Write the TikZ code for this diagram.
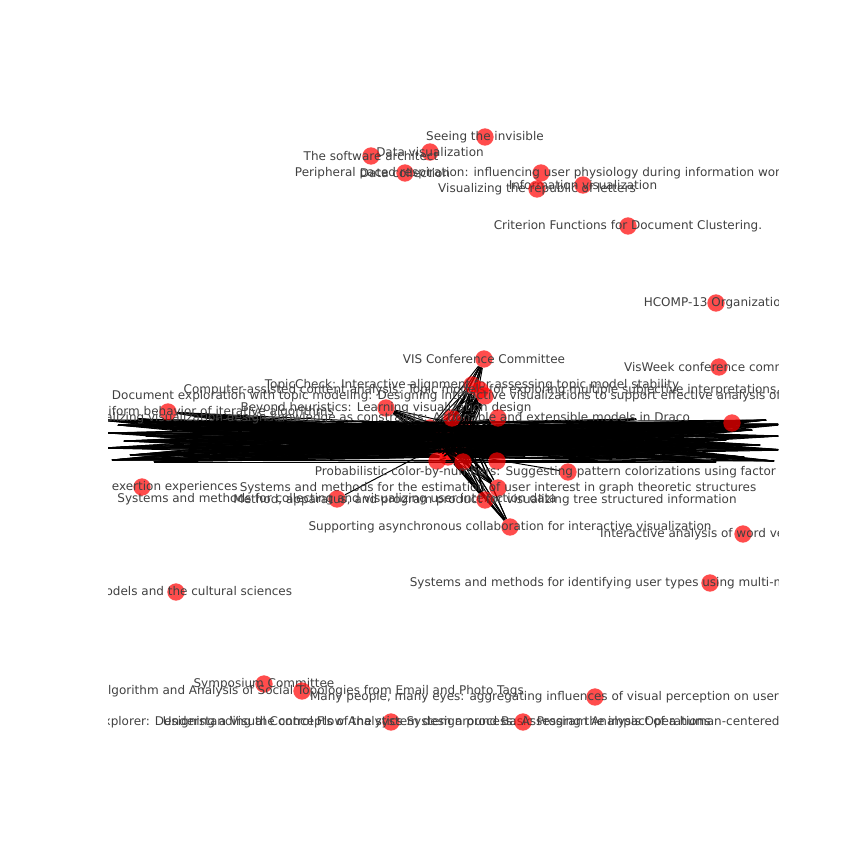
\documentclass[tikz,border=0pt]{standalone}
\usepackage{fontspec}
\setmainfont{DejaVu Sans}
\usetikzlibrary{positioning}
\pgfdeclarelayer{bandlayer}
\pgfdeclarelayer{edgelayer}
\pgfsetlayers{bandlayer,edgelayer,main}
\definecolor{nodered}{RGB}{255,0,0}
\definecolor{lblgray}{RGB}{64,64,64}

\begin{document}
\begin{tikzpicture}[x=0.025cm,y=-0.025cm,
  vtx/.style={circle,draw=none,fill=nodered,fill opacity=0.7,minimum size=4.33mm,inner sep=0pt},
  lbl/.style={font=\fontsize{8.54}{10}\selectfont,text=lblgray,fill opacity=1,text opacity=1,inner sep=0pt},
  every label/.style={lbl},
  link/.style={draw=black,line width=0.7pt}]
\useasboundingbox (0,0) rectangle (864,864);
\clip (108,104) rectangle (778,769);
% --- the hairball: hubs under the edges, far ends of the band as coordinates ---
\begin{pgfonlayer}{bandlayer}
\foreach \x/\y [count=\i] in {430/428,445/432,455/438,440/445,460/446,450/452,470/436,435/438,465/426,448/457}
  \node[vtx] (h\i) at (\x,\y) {};
\end{pgfonlayer}
\foreach \x/\y [count=\i] in {100/420,104/448,108/433,112/460,118/425,124/441,130/455,138/419,146/436,154/462,162/428,170/447,180/421,190/458,200/437,212/451,224/423,238/460,252/432,268/448}
  \coordinate (l\i) at (\x,\y);
\foreach \x/\y [count=\i] in {790/424,786/450,780/436,774/461,766/420,760/445,752/430,744/457,736/427,726/440,716/462,706/422,696/449,684/433,672/458,660/425,648/444,636/419,624/454,612/436}
  \coordinate (r\i) at (\x,\y);
\foreach \x/\y [count=\i] in {300/441,330/459,360/421,392/451,525/456,548/427,582/446,612/459}
  \coordinate (m\i) at (\x,\y);
% --- papers in and around the band ---
\foreach \x/\y [count=\i] in {437/461,463/462,497/461,452/418}
  \node[vtx] (c\i) at (\x,\y) {};
\node[vtx] (rightn) at (732,423) {};
\node[vtx,label={center:VIS Conference Committee}] (vis) at (484,359) {};
\node[vtx,label={center:TopicCheck: Interactive alignment for assessing topic model stability}] (topic) at (472,385) {};
\node[vtx,label={center:Computer-assisted content analysis: Topic models for exploring multiple subjective interpretations}] (compu) at (480,390) {};
\node[vtx,label={center:Document exploration with topic modeling: Designing interactive visualizations to support effective analysis of text corpora}] (docexp) at (485,396) {};
\node[vtx,label={center:Beyond heuristics: Learning visualization design}] (beyond) at (386,408) {};
\node[vtx] (uniform) at (168,412) {};
\node[lbl,anchor=west] (uniformlbl) at ([xshift=-1.875cm]uniform.center) {uniform behavior of iterative algorithms};
\node[vtx] (draco) at (498,418) {};
\node[lbl,anchor=east] (dracolbl) at ([xshift=4.8cm]draco.center) {Formalizing visualization design knowledge as constraints: Actionable and extensible models in Draco};
\node[vtx,label={center:Probabilistic color-by-numbers: Suggesting pattern colorizations using factor graphs}] (prob) at (568,472) {};
\node[vtx,label={center:Systems and methods for the estimation of user interest in graph theoretic structures}] (est) at (498,488) {};
\node[vtx,label={center:Systems and methods for collecting and visualizing user interaction data}] (sysm) at (337,499) {};
\node[vtx,label={center:Method, apparatus, and program product for visualizing tree structured information}] (meth) at (485,500) {};
\node[vtx,label={center:Supporting asynchronous collaboration for interactive visualization}] (supp) at (510,527) {};
% --- edges ---
\begin{pgfonlayer}{edgelayer}
\begin{scope}
\clip (108,104) rectangle (778,769);
\foreach \j in {1,...,10} {
  \foreach \i in {1,...,20} {
    \draw[link] (h\j) -- (l\i);
    \draw[link] (h\j) -- (r\i);
  }
  \foreach \i in {1,...,8} \draw[link] (h\j) -- (m\i);
  \foreach \t in {c1,c2,c3,c4,rightn,vis,topic,compu,docexp,beyond,uniform,draco,est,meth,supp}
    \draw[link] (h\j) -- (\t);
}
\foreach \i [evaluate=\i as \k using {int(21-\i)}, evaluate=\i as \n using {int(mod(\i+6,20)+1)}] in {1,...,20} {
  \draw[link] (l\i) -- (r\i);
  \draw[link] (l\i) -- (r\k);
  \draw[link] (l\i) -- (r\n);
}
\draw[link] (sysm) -- (h4);
\draw[link] (prob) -- (h6);
\end{scope}
\end{pgfonlayer}
% --- loose nodes ---
\node[vtx,label={center:Seeing the invisible}] (seeing) at (485,137) {};
\node[vtx,label={center:Data visualization}] (dataviz) at (430,152) {};
\node[vtx,label={center:The software architect}] (softarch) at (371,156) {};
\node[vtx,label={center:Data collection}] (datacoll) at (405,173) {};
\node[vtx,label={center:Peripheral paced respiration: influencing user physiology during information work}] (periph) at (541,173) {};
\node[vtx,label={center:Information visualization}] (infovis) at (583,185) {};
\node[vtx,label={center:Visualizing the republic of letters}] (republic) at (537,189) {};
\node[vtx,label={center:Criterion Functions for Document Clustering.}] (criterion) at (628,226) {};
\node[vtx,label={center:HCOMP-13 Organization}] (hcomp) at (716,303) {};
\node[vtx,label={center:VisWeek conference committee}] (visweek) at (719,367) {};
\node[vtx] (exert) at (142,487) {};
\node[lbl,anchor=east] (exertlbl) at ([xshift=2.4cm]exert.center) {exertion experiences};
\node[vtx,label={center:Interactive analysis of word vector embeddings}] (wordvec) at (743,534) {};
\node[vtx,label={center:Systems and methods for identifying user types using multi-modal clustering and information scent}] (usertypes) at (710,583) {};
\node[vtx,label={center:Topic models and the cultural sciences}] (culture) at (176,592) {};
\node[vtx,label={center:Symposium Committee}] (symp) at (264,684) {};
\node[vtx,label={center:An Algorithm and Analysis of Social Topologies from Email and Photo Tags}] (socialtop) at (302,691) {};
\node[vtx,label={center:Many people, many eyes: aggregating influences of visual perception on user interface design}] (manyeyes) at (595,697) {};
\node[vtx,label={center:CFGExplorer: Designing a Visual Control Flow Analytics System around Basic Program Analysis Operations}] (cfg) at (391,722) {};
\node[vtx,label={center:Understanding the concepts of the system design process: Assessing the impact of a human-centered design approach}] (understand) at (523,722) {};
\end{tikzpicture}
\end{document}
